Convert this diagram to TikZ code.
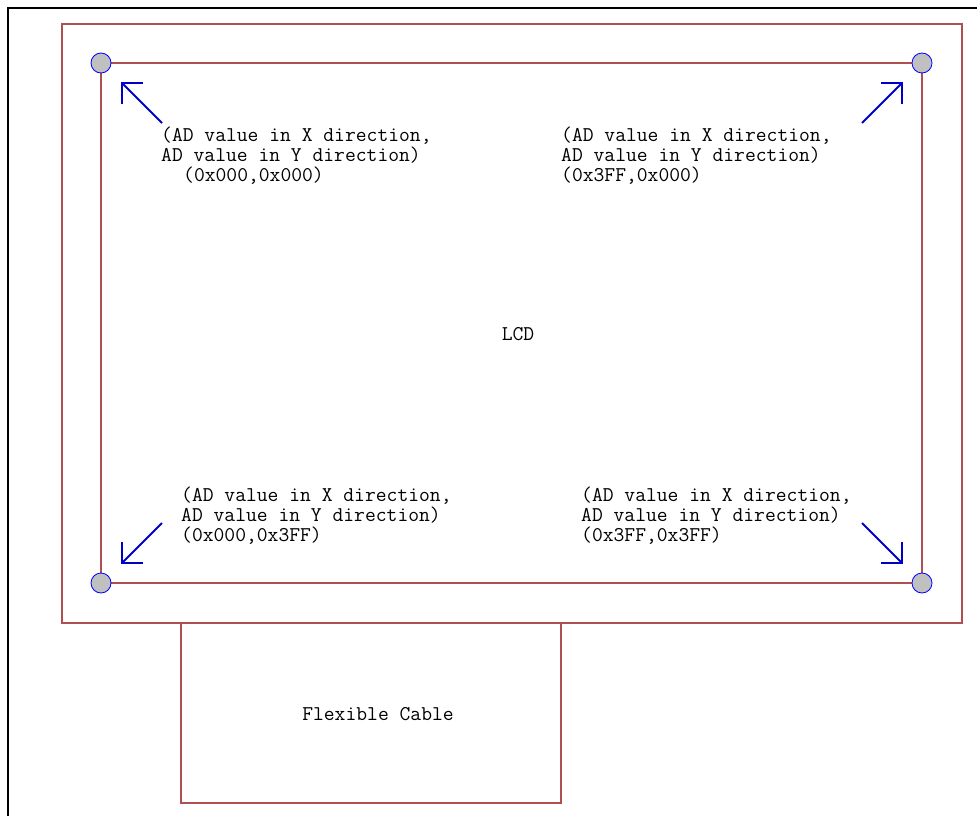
\documentclass[tikz,border=0pt]{standalone}
\usepackage{fontspec}
\definecolor{framered}{RGB}{175,80,80}
\definecolor{arrowblue}{RGB}{0,0,200}
\definecolor{dotgray}{RGB}{192,192,192}
\begin{document}
\begin{tikzpicture}[x=1pt,y=-1pt,
  box/.style={draw=framered, line width=1.3pt},
  dot/.style={circle, draw=blue, fill=dotgray, minimum size=20pt, inner sep=0pt, line width=0.8pt},
  lbl/.style={font=\ttfamily\fontsize{21pt}{21pt}\selectfont, inner sep=0pt, anchor=base west},
  ctr/.style={font=\ttfamily\fontsize{21pt}{21pt}\selectfont, inner sep=0pt, anchor=base},
  ptr/.style={draw=arrowblue, line width=2pt}]
\useasboundingbox (0,0) rectangle (977,816);
% outer black frame (clipped)
\draw[line width=2pt] (8,830) -- (8,8) -- (990,8);
% panel and screen
\coordinate (pTL) at (62,24);
\coordinate (pBR) at (962,623);
\draw[box] (pTL) rectangle (pBR);
\coordinate (sTL) at (101,63);
\coordinate (sTR) at (922,63);
\coordinate (sBL) at (101,583);
\coordinate (sBR) at (922,583);
\draw[box] (sTL) -- (sTR) -- (sBR) -- (sBL) -- cycle;
% flexible cable
\coordinate (cTL) at (181,623);
\coordinate (cBR) at (561,803);
\draw[box] (cTL) rectangle (cBR);
\node[ctr] (cable) at (378,720) {Flexible Cable};
\node[ctr] (lcd) at (518,340) {LCD};
% corner dots
\node[dot] (dTL) at (sTL) {};
\node[dot] (dTR) at (sTR) {};
\node[dot] (dBL) at (sBL) {};
\node[dot] (dBR) at (sBR) {};
% arrows
\draw[ptr] (162,123) -- (122,83);
\draw[ptr, line cap=rect] (142,83) -- (122,83) -- (122,103);
\draw[ptr] (862,123) -- (902,83);
\draw[ptr, line cap=rect] (882,83) -- (902,83) -- (902,103);
\draw[ptr] (162,523) -- (122,563);
\draw[ptr, line cap=rect] (122,543) -- (122,563) -- (142,563);
\draw[ptr] (862,523) -- (902,563);
\draw[ptr, line cap=rect] (902,543) -- (902,563) -- (882,563);
% labels top-left
\node[lbl] (tl1) at (161,141) {(AD value in X direction,};
\node[lbl] (tl2) at (161,161) {AD value in Y direction)};
\node[lbl] (tl3) at (183,181) {(0x000,0x000)};
% labels top-right
\node[lbl] (tr1) at (561,141) {(AD value in X direction,};
\node[lbl] (tr2) at (561,161) {AD value in Y direction)};
\node[lbl] (tr3) at (561,181) {(0x3FF,0x000)};
% labels bottom-left
\node[lbl] (bl1) at (181,501) {(AD value in X direction,};
\node[lbl] (bl2) at (181,521) {AD value in Y direction)};
\node[lbl] (bl3) at (181,541) {(0x000,0x3FF)};
% labels bottom-right
\node[lbl] (br1) at (581,501) {(AD value in X direction,};
\node[lbl] (br2) at (581,521) {AD value in Y direction)};
\node[lbl] (br3) at (581,541) {(0x3FF,0x3FF)};
\end{tikzpicture}
\end{document}
